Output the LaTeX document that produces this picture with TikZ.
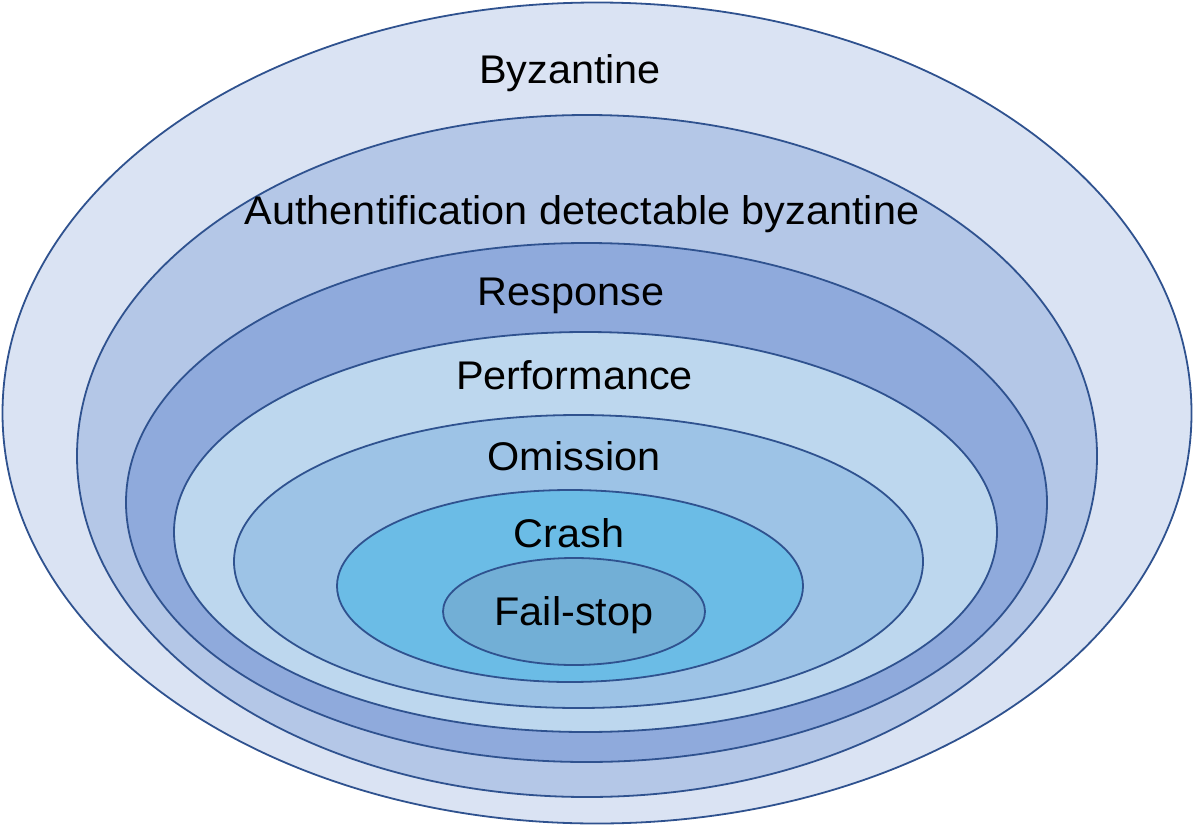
\documentclass[tikz,border=0pt]{standalone}
\usepackage{fontspec}
\setmainfont{Liberation Sans}
\usetikzlibrary{shapes.geometric}
\definecolor{cbyz}{HTML}{DAE3F3}
\definecolor{cauth}{HTML}{B4C7E7}
\definecolor{cresp}{HTML}{8FAADC}
\definecolor{cperf}{HTML}{BDD7EE}
\definecolor{comis}{HTML}{9DC3E6}
\definecolor{ccrash}{HTML}{6BBCE6}
\definecolor{cfail}{HTML}{72AFD6}
\definecolor{cline}{HTML}{2F528F}
\tikzset{
  ring/.style={ellipse, draw=cline, line width=1.8pt, inner sep=0pt},
  lbl/.style={anchor=base, inner sep=0pt, xscale=1.035, font=\fontsize{40}{46}\selectfont, text=black}
}
\begin{document}
\begin{tikzpicture}[x=1pt,y=-1pt]
\useasboundingbox (0,0) rectangle (1193,827);
\node[ring, fill=cbyz, minimum width=1189pt, minimum height=821pt] (byz) at (597,413) {};
\node[ring, fill=cauth, minimum width=1020pt, minimum height=682pt] (auth) at (587,456) {};
\node[ring, fill=cresp, minimum width=921pt, minimum height=519pt] (resp) at (586.5,502.5) {};
\node[ring, fill=cperf, minimum width=823pt, minimum height=400pt] (perf) at (585.5,532) {};
\node[ring, fill=comis, minimum width=689pt, minimum height=293pt] (omis) at (578.5,561.5) {};
\node[ring, fill=ccrash, minimum width=466pt, minimum height=192pt] (crash) at (570,586) {};
\node[ring, fill=cfail, minimum width=262pt, minimum height=107pt] (fail) at (574,611.5) {};
\node[lbl] (tbyz) at (570,83) {Byzantine};
\node[lbl] (tauth) at (582,224) {Authentification detectable byzantine};
\node[lbl] (tresp) at (571,305) {Response};
\node[lbl] (tperf) at (574.5,389) {Performance};
\node[lbl] (tomis) at (574,470) {Omission};
\node[lbl] (tcrash) at (569,547) {Crash};
\node[lbl] (tfail) at (574,625) {Fail-stop};
\end{tikzpicture}
\end{document}
